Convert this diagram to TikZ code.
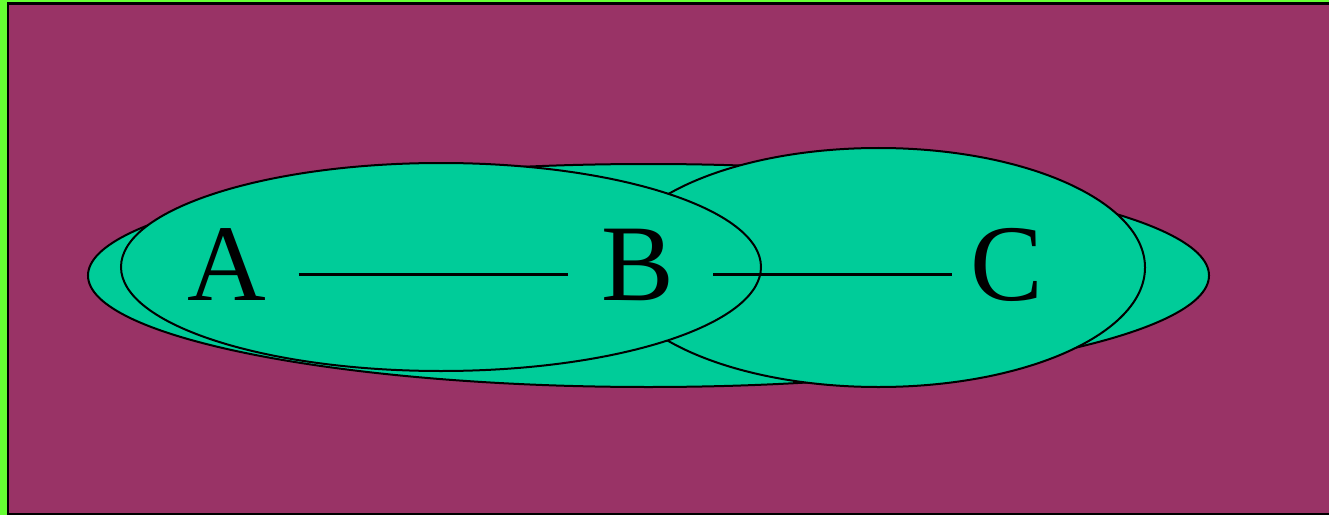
\documentclass[tikz,border=0pt]{standalone}
\usepackage{fontspec}
\setmainfont{Liberation Serif}
\definecolor{bgpurple}{HTML}{993366}
\definecolor{edgegreen}{HTML}{66FF33}
\definecolor{setteal}{HTML}{00CC99}
\tikzset{
  setshape/.style={fill=setteal, draw=black, line width=2pt},
  letter/.style={inner sep=0pt, anchor=base, font=\fontsize{109}{120}\selectfont},
  link/.style={draw=black, line width=2.5pt}
}
\begin{document}
\begin{tikzpicture}[x=1pt,y=1pt]
\useasboundingbox (0,0) rectangle (1329,515);
\begin{scope}
\clip (0,0) rectangle (1329,515);
\fill[edgegreen] (0,0) rectangle (1329,515);
\filldraw[fill=bgpurple, draw=black, line width=2.5pt] (8,1) rectangle (1345,511.5);
\end{scope}
% sets
\draw[setshape] (648.5,239.5) ellipse [x radius=560.5, y radius=111.5];
\draw[setshape] (878.5,247.5) ellipse [x radius=266.5, y radius=119.5];
\draw[setshape] (441,248) ellipse [x radius=320, y radius=104];
% letters
\node[letter] (a) at (227,215) {A};
\node[letter] (b) at (638,215) {B};
\node[letter] (c) at (1007,215) {C};
\draw[link] ([xshift=32pt,yshift=25.5pt]a.base east) -- ([xshift=-33.6pt,yshift=25.5pt]b.base west);
\draw[link] ([xshift=38.6pt,yshift=25.5pt]b.base east) -- ([xshift=-18.6pt,yshift=25.5pt]c.base west);
\end{tikzpicture}
\end{document}
